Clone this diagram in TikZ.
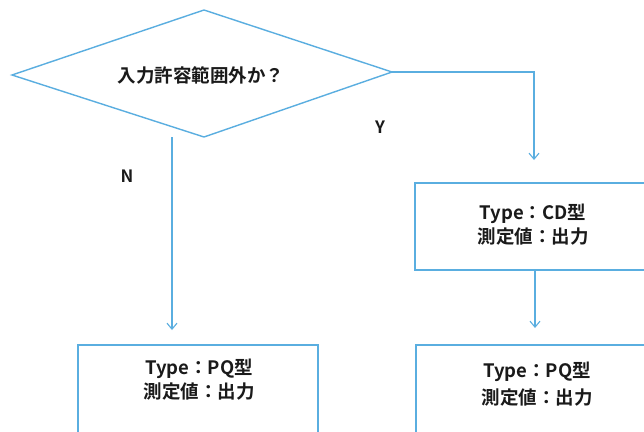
\documentclass[tikz,border=0pt]{standalone}
\usepackage{fontspec}
\setmainfont{Liberation Sans}
\newfontfamily\jpfont{Noto Sans CJK JP}[BoldFont={* Bold}]
\usetikzlibrary{arrows.meta,shapes.geometric}
\definecolor{lineblue}{HTML}{5AAEE0}
\definecolor{txt}{HTML}{1A1A1A}
\tikzset{
  flow/.style={draw=lineblue, line width=1.4pt},
  arr/.style={flow, -{Straight Barb[length=6pt,width=10pt,line width=1.1pt]}},
  boxtext/.style={font=\jpfont\bfseries\fontsize{18.5}{24}\selectfont, text=txt, align=center},
  lbl/.style={font=\jpfont\bfseries\fontsize{17}{20}\selectfont, text=txt}
}
\begin{document}
\begin{tikzpicture}[x=1pt,y=-1pt]
\useasboundingbox (0,0) rectangle (644,431);
\clip (0,0) rectangle (644,431);
\fill[white] (0,0) rectangle (644,431);
% diamond
\coordinate (dl) at (12,75);
\coordinate (dt) at (204,10);
\coordinate (dr) at (392,72);
\coordinate (db) at (204,137);
\draw[flow, line join=miter] (dl) -- (dt) -- (dr) -- (db) -- cycle;
\node[boxtext] (q) at (201,75) {入力許容範囲外か？};
% boxes
\draw[flow] (415,183) rectangle (660,270);
\node[boxtext] (cd) at (533,225) {Type：CD型\\測定値：出力};
\draw[flow] (78,345) rectangle (318,445);
\node[boxtext] (pql) at (199,380) {Type：PQ型\\測定値：出力};
\draw[flow] (416,345) rectangle (660,445);
\node[boxtext, font=\jpfont\bfseries\fontsize{18.5}{27}\selectfont] (pqr) at (537,384) {Type：PQ型\\測定値：出力};
% connectors
\coordinate (ys) at (534,72);
\coordinate (cdtop) at (534,160);
\draw[arr] (dr) -- (ys) -- (cdtop);
\coordinate (ns) at (172,137);
\coordinate (pqltop) at (172,330);
\draw[arr] (ns) -- (pqltop);
\coordinate (cdbot) at (535,270);
\coordinate (pqrtop) at (535,328);
\draw[arr] (cdbot) -- (pqrtop);
% labels
\node[lbl] (n) at (127,176) {N};
\node[lbl] (y) at (380,127) {Y};
\end{tikzpicture}
\end{document}
